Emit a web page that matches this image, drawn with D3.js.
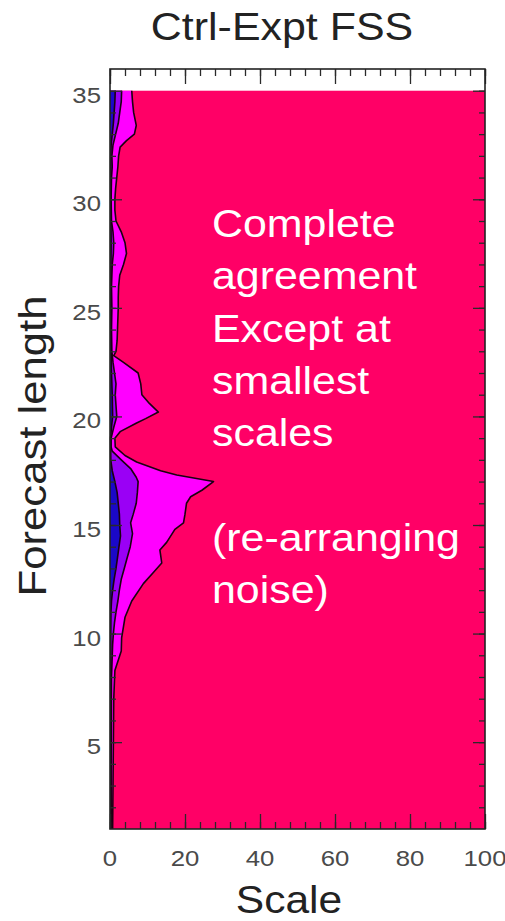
<!DOCTYPE html>
<html>
<head>
<meta charset="utf-8">
<script src="https://cdn.jsdelivr.net/npm/d3@7/dist/d3.min.js"></script>
<style>
  html, body { margin: 0; padding: 0; background: #fff; }
  svg { display: block; }
</style>
</head>
<body>
<svg id="chart" width="505" height="921"></svg>
<script>
// Axis tick labels
const scaleTicks = [0, 20, 40, 60, 80, 100];
const hourTicks = [5, 10, 15, 20, 25, 30, 35];

// FSS contour boundaries: [forecast length, scale at which the class ends]
// Magenta class (outermost contour, everything right of it is full agreement)
const magentaEdge = [
  [35, 5.8], [34.5, 6.0], [34, 6.3], [33.4, 7.0], [33.0, 6.5], [32.7, 4.4],
  [32.4, 2.7], [32, 2.3], [31.5, 2.1], [31, 1.8], [30.5, 1.5], [30, 1.3],
  [29.5, 1.3], [29, 1.6], [28.5, 3.0], [28, 4.0], [27.5, 4.4], [27, 3.6],
  [26.5, 2.6], [26, 2.3], [25.5, 2.2], [25, 2.2], [24.5, 2.1], [24, 2.0],
  [23.5, 1.9], [23, 1.6], [22.8, 1.0], [22.5, 3.5], [22, 7.5], [21.5, 8.2],
  [21, 8.5], [20.6, 10.5], [20.2, 12.9], [19.9, 9.5], [19.7, 7.1], [19.3, 2.7],
  [19.0, 1.3], [18.6, 1.4], [18.2, 4.0], [17.9, 7.1], [17.5, 13.5], [17.3, 17.8],
  [17.0, 27.6], [16.6, 24.5], [16.3, 21.5], [16.0, 20.4], [15.5, 20.0], [15.1, 19.6],
  [14.8, 17.3], [14.2, 15.1], [13.85, 13.3], [13.25, 13.8], [12.8, 11.5], [12.3, 8.9],
  [11.5, 5.8], [10.75, 4.0], [9.8, 3.1], [9.2, 3.0], [8.3, 1.3], [7, 1.0],
  [5, 0.9], [3, 0.8], [1, 0.7]
];
// Violet class
const violetEdge = [
  [35, 3.1], [34.5, 3.0], [34, 2.6], [33.5, 2.2], [33, 1.5], [32.5, 0.8],
  [32, 0.5], [31.5, 0.6], [31, 0.4], [30, 0.3], [29, 0.4], [28.5, 0.8],
  [28, 1.0], [27.5, 0.9], [27, 0.6], [26, 0.4], [25, 0.5], [24, 0.4],
  [23, 0.5], [22.5, 0.8], [22, 1.2], [21.5, 1.6], [21, 1.4], [20.5, 1.6],
  [20, 1.8], [19.5, 1.0], [19, 0.3], [18.6, 0.3], [18.4, 0.6], [18.0, 3.0],
  [17.6, 5.5], [17.2, 7.0], [17.0, 7.5], [16.5, 7.3], [16.0, 7.0], [15.5, 6.2],
  [15.1, 5.5], [14.6, 6.0], [14.0, 5.4], [13.5, 4.6], [13.0, 3.8], [12.5, 3.0],
  [12.0, 2.5], [11.5, 2.1], [11.0, 1.6], [10.5, 1.2], [10.0, 0.9], [9.5, 0.7],
  [9, 0.6], [8, 0.4], [6, 0.35], [4, 0.3], [1, 0.3]
];
// Blue class (lowest skill)
const blueEdge = [
  [35, 1.4], [34.5, 1.3], [34, 1.1], [33.5, 0.9], [33, 0.6], [32.5, 0.3],
  [32, 0.2], [30, 0.2], [28, 0.3], [26, 0.2], [24, 0.2], [22, 0.4],
  [21, 0.6], [20, 0.7], [19.5, 0.4], [19, 0.15], [18, 0.2], [17.5, 0.6],
  [17, 1.3], [16.5, 1.9], [16, 2.2], [15.5, 2.5], [15, 2.6], [14.5, 2.8],
  [14, 2.4], [13.5, 2.0], [13, 1.6], [12.5, 1.1], [12, 0.7], [11.5, 0.4],
  [11, 0.25], [10, 0.2], [8, 0.2], [5, 0.2], [1, 0.2]
];

const svg = d3.select("#chart");
const font = "'Liberation Sans', Arial, sans-serif";

const x = d3.scaleLinear().domain([0, 100]).range([110, 485]);
const y = d3.scaleLinear().domain([1, 36]).range([829, 69]);

// Full-agreement background field
svg.append("rect")
  .attr("x", x(0)).attr("y", y(35))
  .attr("width", x(100) - x(0)).attr("height", y(1) - y(35))
  .attr("fill", "#ff0066");

const levels = [
  { edge: magentaEdge, color: "#ff00ff" },
  { edge: violetEdge, color: "#9a00f5" },
  { edge: blueEdge, color: "#1a08c8" }
];

const area = d3.area()
  .y(d => y(d[0]))
  .x0(x(0))
  .x1(d => x(d[1]));
const edgeLine = d3.line()
  .x(d => x(d[1]))
  .y(d => y(d[0]));

levels.forEach(l => {
  svg.append("path").datum(l.edge)
    .attr("d", area).attr("fill", l.color);
  svg.append("path").datum(l.edge)
    .attr("d", edgeLine).attr("fill", "none")
    .attr("stroke", "#1a0010").attr("stroke-width", 1.6)
    .attr("stroke-linejoin", "round");
});

// Tick marks on all four sides, pointing inward
const tickColor = "#2a2a2a";
const xMinor = d3.range(0, 101, 4);
const yMinor = d3.range(2, 36, 1);

function ticks(axis, values, size, transform) {
  const g = svg.append("g").attr("transform", transform)
    .call(axis.tickValues(values).tickSize(size).tickFormat(""));
  g.select(".domain").remove();
  g.selectAll("line").attr("stroke", tickColor).attr("stroke-width", 1.3);
}
ticks(d3.axisTop(x), xMinor, -7, `translate(0,${y(36)})`);
ticks(d3.axisTop(x), scaleTicks, -15, `translate(0,${y(36)})`);
ticks(d3.axisBottom(x), xMinor, -7, `translate(0,${y(1)})`);
ticks(d3.axisBottom(x), scaleTicks, -15, `translate(0,${y(1)})`);
ticks(d3.axisLeft(y), yMinor, -6, `translate(${x(0)},0)`);
ticks(d3.axisLeft(y), hourTicks, -12, `translate(${x(0)},0)`);
ticks(d3.axisRight(y), yMinor, -6, `translate(${x(100)},0)`);
ticks(d3.axisRight(y), hourTicks, -12, `translate(${x(100)},0)`);

// Plot frame
svg.append("rect")
  .attr("x", x(0)).attr("y", y(36))
  .attr("width", x(100) - x(0)).attr("height", y(1) - y(36))
  .attr("fill", "none").attr("stroke", "#222").attr("stroke-width", 1.6);

// Tick labels
const labelColor = "#4a4a4a";
svg.append("g").selectAll("text").data(scaleTicks).join("text")
  .attr("transform", d => `translate(${x(d)},866) scale(1.12,1)`)
  .attr("text-anchor", "middle")
  .attr("font-family", font).attr("font-size", 23)
  .attr("fill", labelColor)
  .text(d => d);

svg.append("g").selectAll("text").data(hourTicks).join("text")
  .attr("transform", d => `translate(101,${y(d) + 12}) scale(1.12,1)`)
  .attr("text-anchor", "end")
  .attr("font-family", font).attr("font-size", 23)
  .attr("fill", labelColor)
  .text(d => d);

// Titles
svg.append("text")
  .attr("transform", "translate(282,40) scale(1.13,1)")
  .attr("text-anchor", "middle")
  .attr("font-family", font).attr("font-size", 38)
  .attr("fill", "#222")
  .text("Ctrl-Expt FSS");

svg.append("text")
  .attr("transform", "translate(289,913) scale(1.12,1)")
  .attr("text-anchor", "middle")
  .attr("font-family", font).attr("font-size", 38)
  .attr("fill", "#222")
  .text("Scale");

svg.append("text")
  .attr("transform", "translate(46,446) rotate(-90) scale(1.12,1)")
  .attr("text-anchor", "middle")
  .attr("font-family", font).attr("font-size", 39)
  .attr("fill", "#222")
  .text("Forecast length");

// Annotation inside the plot
const note = ["Complete", "agreement", "Except at", "smallest", "scales", "", "(re-arranging", "noise)"];
svg.append("g").selectAll("text").data(note).join("text")
  .attr("transform", (d, i) => `translate(212,${237 + i * 52.3}) scale(1.1,1)`)
  .attr("font-family", font).attr("font-size", 39)
  .attr("fill", "#fff")
  .text(d => d);
</script>
</body>
</html>
